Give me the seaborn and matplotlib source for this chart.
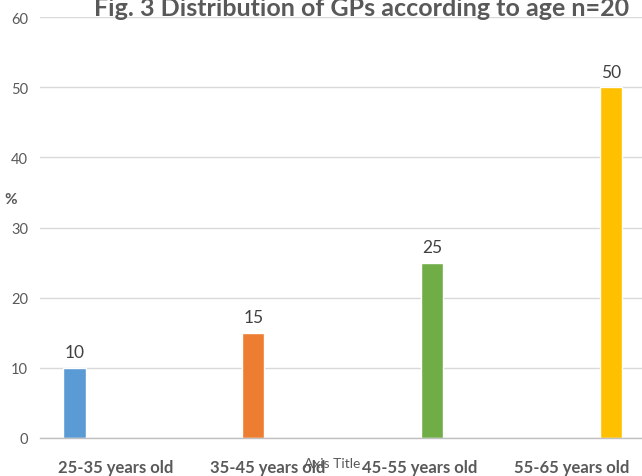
import matplotlib
matplotlib.use("Agg")
import matplotlib.pyplot as plt
import seaborn as sns
import pandas as pd

# Chart data
categories = ["25-35 years old", "35-45 years old", "45-55 years old", "55-65 years old"]
percentages = [10, 15, 25, 50]
bar_colors = ["#5B9BD5", "#ED7D31", "#70AD47", "#FFC000"]
y_ticks = [0, 10, 20, 30, 40, 50, 60]
title_text = "Fig. 3 Distribution of GPs according to age n=20"

sns.set_theme(style="white")
plt.rcParams["font.family"] = ["Lato", "DejaVu Sans"]

TEXT = "#595959"
W, H = 642, 477
fig = plt.figure(figsize=(W / 100, H / 100), dpi=100)
ax = fig.add_axes([40 / W, 1 - 439 / H, 1 - 40 / W, (439 - 18) / H])

df = pd.DataFrame({"age": categories, "pct": percentages})
sns.barplot(data=df, x="age", y="pct", hue="age", palette=bar_colors,
            width=0.125, legend=False, ax=ax, saturation=1)

for cont in ax.containers:
    ax.bar_label(cont, fmt="%g", padding=5.5, fontsize=12.5, color="#404040")

ax.set_ylim(0, 60)
ax.set_yticks(y_ticks)
ax.set_xlim(-0.193, 3.174)

# category labels sit on their own, evenly spread positions
label_pos = [0.232, 1.082, 1.932, 2.782]
ax.set_xticks(label_pos)
ax.set_xticklabels(categories, fontsize=12, fontweight="bold", color=TEXT)
ax.tick_params(axis="x", length=0, pad=15)
ax.tick_params(axis="y", length=0, pad=8.5, labelsize=10.5, labelcolor=TEXT)

ax.grid(axis="y", color="#D9D9D9", linewidth=1.0)
ax.set_axisbelow(True)
for side in ["top", "right", "left"]:
    ax.spines[side].set_visible(False)
ax.spines["bottom"].set_color("#BFBFBF")
ax.spines["bottom"].set_linewidth(1.0)

ax.set_xlabel("Axis Title", fontsize=10, color=TEXT)
ax.xaxis.set_label_coords(0.485, -0.045)
ax.set_ylabel("%", rotation=0, fontsize=11, fontweight="bold", color=TEXT)
ax.yaxis.set_label_coords(-0.048, 0.551)

fig.text(362 / W, 1 - 16 / H, title_text, ha="center", va="baseline",
         fontsize=18, fontweight="bold", color=TEXT)

fig.savefig("out.png", dpi=100)
